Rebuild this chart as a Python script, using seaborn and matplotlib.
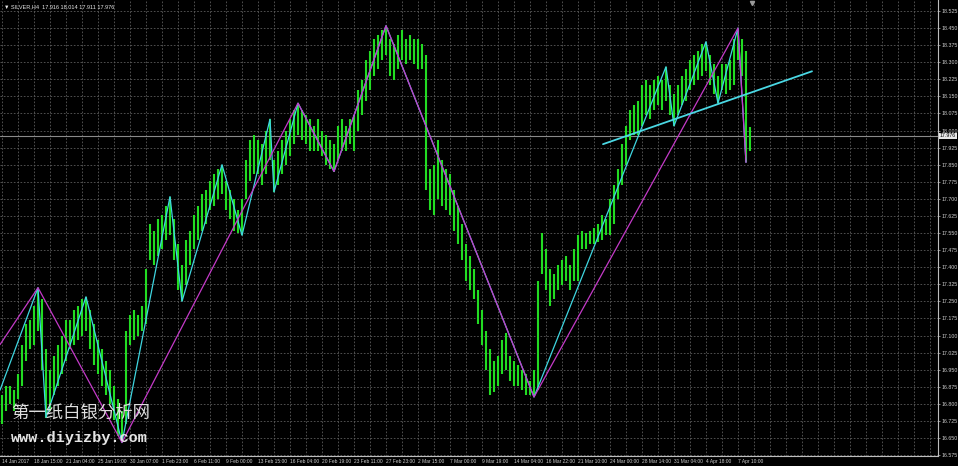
import matplotlib
matplotlib.use("Agg")
import matplotlib.pyplot as plt
import matplotlib.transforms as mtransforms
import seaborn as sns

# SILVER H4 bars (high / low per bar)
highs = [16.84, 16.88, 16.88, 16.86, 16.93, 17.06, 17.15, 17.17, 17.23, 17.31,
         17.26, 17.04, 16.95, 17.01, 17.06, 17.10, 17.17, 17.17, 17.21, 17.23,
         17.26, 17.27, 17.21, 17.15, 17.08, 17.04, 16.99, 16.95, 16.88, 16.82,
         16.77, 17.12, 17.19, 17.21, 17.19, 17.23, 17.39, 17.59, 17.56, 17.61,
         17.63, 17.67, 17.71, 17.61, 17.50, 17.41, 17.52, 17.56, 17.63, 17.67,
         17.72, 17.74, 17.78, 17.81, 17.83, 17.85, 17.78, 17.74, 17.70, 17.65,
         17.70, 17.87, 17.96, 17.98, 17.96, 17.94, 18.00, 18.05, 17.87, 17.91,
         17.96, 18.00, 18.05, 18.09, 18.12, 18.09, 18.07, 18.05, 18.02, 18.05,
         18.00, 17.98, 17.96, 17.94, 18.02, 18.05, 18.02, 18.05, 18.07, 18.18,
         18.22, 18.31, 18.35, 18.40, 18.42, 18.44, 18.46, 18.40, 18.38, 18.42,
         18.44, 18.40, 18.42, 18.40, 18.40, 18.38, 18.33, 17.83, 17.85, 17.96,
         17.87, 17.83, 17.81, 17.74, 17.67, 17.59, 17.50, 17.45, 17.39, 17.30,
         17.21, 17.12, 17.04, 16.99, 17.01, 17.08, 17.11, 17.01, 16.99, 16.97,
         16.95, 16.93, 16.90, 16.95, 17.34, 17.55, 17.48, 17.39, 17.37, 17.41,
         17.43, 17.45, 17.41, 17.48, 17.54, 17.56, 17.55, 17.56, 17.57, 17.59,
         17.63, 17.61, 17.70, 17.76, 17.83, 17.94, 18.02, 18.09, 18.11, 18.13,
         18.20, 18.22, 18.20, 18.22, 18.24, 18.22, 18.28, 18.20, 18.16, 18.20,
         18.24, 18.27, 18.31, 18.33, 18.35, 18.38, 18.39, 18.33, 18.29, 18.24,
         18.29, 18.29, 18.31, 18.40, 18.45, 18.40, 18.35, 18.014]
lows = [16.71, 16.77, 16.80, 16.77, 16.82, 16.88, 16.99, 17.04, 17.06, 17.12,
        16.95, 16.74, 16.77, 16.84, 16.88, 16.93, 16.99, 17.04, 17.06, 17.08,
        17.10, 17.12, 17.04, 16.97, 16.93, 16.88, 16.84, 16.80, 16.73, 16.66,
        16.63, 16.71, 17.06, 17.08, 17.10, 17.12, 17.15, 17.43, 17.41, 17.45,
        17.48, 17.52, 17.54, 17.43, 17.30, 17.25, 17.32, 17.41, 17.48, 17.52,
        17.56, 17.59, 17.65, 17.67, 17.70, 17.72, 17.65, 17.61, 17.56, 17.55,
        17.54, 17.70, 17.78, 17.81, 17.81, 17.76, 17.81, 17.87, 17.73, 17.76,
        17.81, 17.85, 17.89, 17.94, 17.98, 17.96, 17.94, 17.91, 17.91, 17.91,
        17.89, 17.85, 17.83, 17.82, 17.87, 17.91, 17.91, 17.94, 17.91, 18.00,
        18.07, 18.13, 18.18, 18.24, 18.27, 18.31, 18.33, 18.24, 18.22, 18.27,
        18.31, 18.29, 18.31, 18.29, 18.27, 18.27, 17.74, 17.65, 17.63, 17.70,
        17.67, 17.65, 17.63, 17.56, 17.50, 17.43, 17.34, 17.30, 17.26, 17.15,
        17.06, 16.95, 16.84, 16.85, 16.88, 16.93, 16.95, 16.90, 16.88, 16.88,
        16.86, 16.84, 16.84, 16.83, 16.86, 17.37, 17.30, 17.23, 17.26, 17.30,
        17.32, 17.34, 17.30, 17.34, 17.34, 17.48, 17.48, 17.50, 17.50, 17.51,
        17.52, 17.54, 17.54, 17.59, 17.70, 17.76, 17.85, 17.96, 17.98, 17.98,
        18.02, 18.07, 18.05, 18.09, 18.11, 18.09, 18.13, 18.07, 18.02, 18.07,
        18.11, 18.13, 18.18, 18.20, 18.22, 18.24, 18.26, 18.20, 18.16, 18.12,
        18.18, 18.16, 18.18, 18.20, 18.31, 18.24, 17.86, 17.911]

# ZigZag pivots (bar index, price)
zz_major_idx = [-0.5, 9, 30, 74, 83, 96, 133, 184, 186]
zz_major_px = [17.06, 17.31, 16.63, 18.12, 17.82, 18.46, 16.83, 18.45, 17.86]
zz_minor_idx = [-0.5, 9, 11, 21, 30, 42, 45, 55, 60, 67, 68, 74, 83, 96,
                133, 166, 168, 176, 179, 184, 186]
zz_minor_px = [16.86, 17.31, 16.74, 17.27, 16.63, 17.71, 17.25, 17.85, 17.54,
               18.05, 17.73, 18.12, 17.82, 18.46, 16.83, 18.28, 18.02, 18.39,
               18.12, 18.45, 17.86]
trend_idx = [150.25, 202.5]
trend_px = [17.94, 18.26]

last_close = 17.976
header = "\u25bc SILVER,H4  17.916 18.014 17.911 17.976"

date_labels = ["14 Jan 2017", "18 Jan 15:00", "21 Jan 04:00", "25 Jan 19:00",
               "30 Jan 07:00", "1 Feb 23:00", "6 Feb 11:00", "9 Feb 00:00",
               "13 Feb 15:00", "16 Feb 04:00", "20 Feb 19:00", "23 Feb 11:00",
               "27 Feb 23:00", "2 Mar 15:00", "7 Mar 00:00", "9 Mar 19:00",
               "14 Mar 04:00", "16 Mar 22:00", "21 Mar 10:00", "24 Mar 00:00",
               "28 Mar 14:00", "31 Mar 04:00", "4 Apr 18:00", "7 Apr 10:00"]
price_ticks = [16.575, 16.650, 16.725, 16.800, 16.875, 16.950, 17.025, 17.100,
               17.175, 17.250, 17.325, 17.400, 17.475, 17.550, 17.625, 17.700,
               17.775, 17.850, 17.925, 18.000, 18.075, 18.150, 18.225, 18.300,
               18.375, 18.450, 18.525]

sns.set_style("dark", {"axes.facecolor": "black", "figure.facecolor": "black"})
small_font = ["Liberation Sans", "DejaVu Sans"]

fig = plt.figure(figsize=(9.58, 4.66), dpi=100)
ax = fig.add_axes([0, 10 / 466, 938 / 958, 456 / 466])
ax.set_facecolor("black")

# grid (MT4 style dotted)
for k in range(0, 236, 4):
    ax.axvline(k, color="#5c5c5c", lw=0.6, ls=(0, (2, 2)), zorder=0)
for p in price_ticks:
    ax.axhline(p, color="#5c5c5c", lw=0.6, ls=(0, (2, 2)), zorder=0)

# bars
ax.vlines(range(len(highs)), lows, highs, colors="#22dc22", lw=1.5, zorder=2)

# current price line
ax.axhline(last_close, color="#8a8a8a", lw=0.8, zorder=1)

# zigzags and trend line
sns.lineplot(x=zz_minor_idx, y=zz_minor_px, sort=False, estimator=None,
             color="#3fd6e0", lw=0.9, ax=ax, zorder=3)
sns.lineplot(x=zz_major_idx, y=zz_major_px, sort=False, estimator=None,
             color="#c43ac8", lw=0.9, ax=ax, zorder=4)
sns.lineplot(x=trend_idx, y=trend_px, sort=False, estimator=None,
             color="#4ad8e4", lw=1.3, ax=ax, zorder=4)

ax.set_xlim(-0.5, 234)
ax.set_ylim(16.571, 18.573)

# axes look
for side in ["top", "left"]:
    ax.spines[side].set_visible(False)
for side in ["right", "bottom"]:
    ax.spines[side].set_color("#bdbdbd")
    ax.spines[side].set_linewidth(0.8)

ax.yaxis.tick_right()
ax.set_yticks(price_ticks)
ax.set_yticklabels([f"{p:.3f}" for p in price_ticks], fontsize=3.8,
                   color="#cfcfcf", family=small_font)
ax.tick_params(axis="y", length=1.5, width=0.5, color="#bdbdbd", pad=1)

ax.set_xticks(list(range(0, 8 * len(date_labels), 8)))
ax.set_xticklabels(date_labels, fontsize=3.5, color="#cfcfcf", family=small_font,
                   ha="left")
ax.tick_params(axis="x", length=2, width=0.5, color="#bdbdbd", pad=0.5)
ax.set_xlabel("")
ax.set_ylabel("")

# current price tag on the axis
trans = mtransforms.blended_transform_factory(ax.transAxes, ax.transData)
ax.text(1.002, last_close, f"{last_close:.3f}", transform=trans, fontsize=3.8,
        family=small_font, color="black", va="center", ha="left",
        bbox=dict(boxstyle="square,pad=0.15", fc="#e6e6e6", ec="none"),
        zorder=6, clip_on=False)

# chart shift marker
ax.plot([187.5], [18.56], marker="v", color="#9a9a9a", ms=3, clip_on=False, zorder=6)

# header
ax.text(0.004, 0.99, header, transform=ax.transAxes, fontsize=4.0,
        family=small_font, color="#e8e8e8", va="top", ha="left")

# watermark
ax.text(0.012, 0.095, "第一纸白银分析网", transform=ax.transAxes, fontsize=12.5,
        family=["Noto Sans CJK SC", "DejaVu Sans"], color="#dedede",
        va="center", ha="left", zorder=7)
ax.text(0.012, 0.04, "www.diyizby.com", transform=ax.transAxes, fontsize=11,
        family=["Liberation Mono", "DejaVu Sans Mono"], fontweight="bold",
        color="#e4e4e4", va="center", ha="left", zorder=7)

fig.savefig("out.png", dpi=100, facecolor="black")
